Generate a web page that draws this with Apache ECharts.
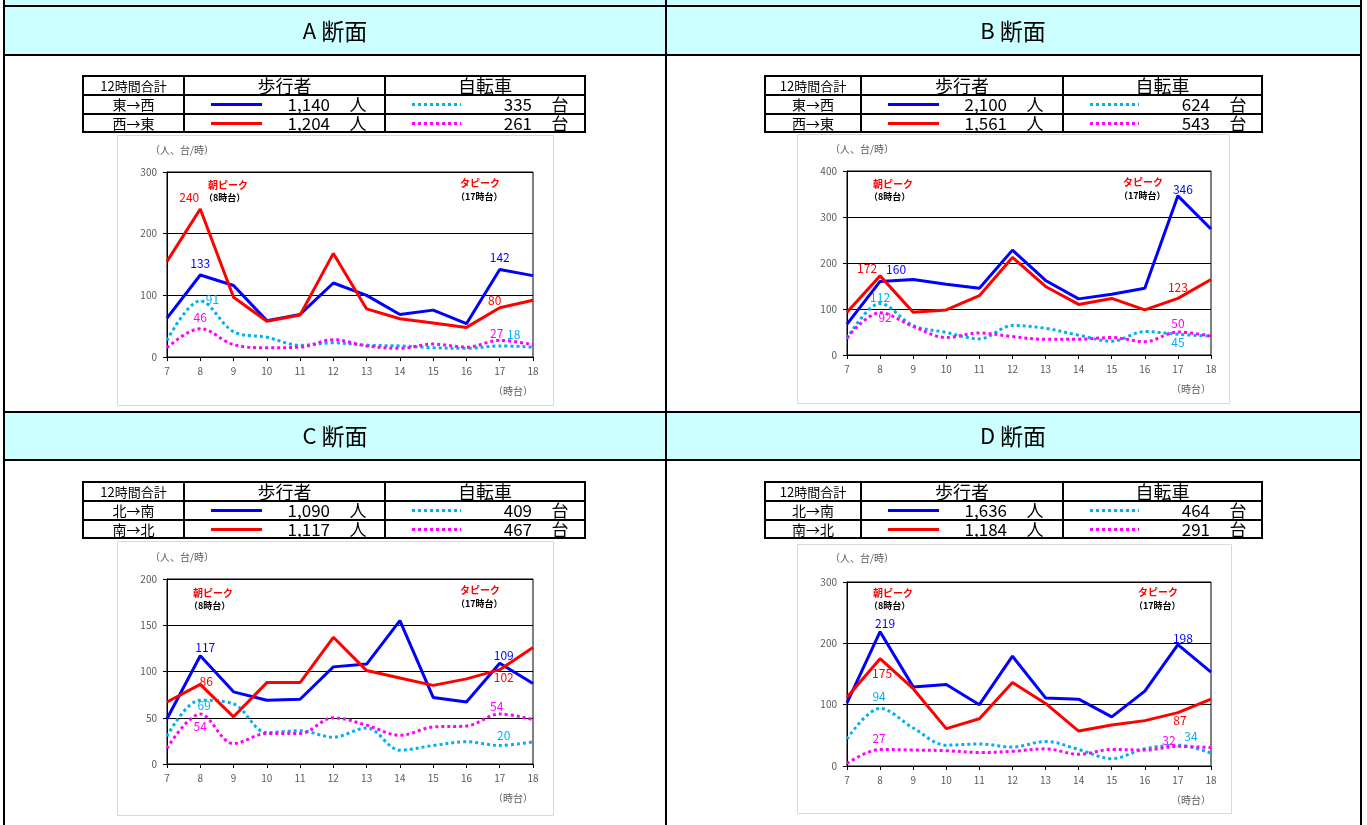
<!DOCTYPE html>
<html>
<head>
<meta charset="utf-8">
<script src="https://cdn.jsdelivr.net/npm/echarts@6/dist/echarts.min.js"></script>
<style>
html, body { margin: 0; padding: 0; background: #fff; }
#main { width: 1367px; height: 825px; }
</style>
</head>
<body>
<div id="main"></div>
<script>
const hours = ['7', '8', '9', '10', '11', '12', '13', '14', '15', '16', '17', '18'];

// A断面
const pedA_EW = [63, 133, 116, 59, 69, 120, 100, 69, 76, 54, 142, 132];
const pedA_WE = [155, 240, 97, 58, 68, 168, 78, 62, 55, 48, 80, 92];
const bikeA_EW = [27, 91, 41, 32, 19, 23, 19, 18, 15, 14, 18, 16];
const bikeA_WE = [15, 46, 20, 15, 16, 28, 18, 14, 21, 16, 27, 20];
// B断面
const pedB_EW = [67, 160, 164, 154, 145, 228, 162, 122, 132, 145, 346, 274];
const pedB_WE = [93, 172, 93, 98, 129, 212, 149, 110, 123, 98, 123, 164];
const bikeB_EW = [35, 112, 64, 49, 35, 64, 58, 43, 30, 51, 45, 41];
const bikeB_WE = [38, 92, 62, 38, 48, 40, 34, 34, 38, 29, 50, 41];
// C断面
const pedC_NS = [49, 117, 78, 69, 70, 105, 108, 155, 72, 67, 109, 87];
const pedC_SN = [67, 86, 51, 88, 88, 137, 101, 93, 85, 92, 102, 126];
const bikeC_NS = [30, 69, 65, 34, 36, 29, 39, 15, 20, 24, 20, 24];
const bikeC_SN = [17, 54, 22, 33, 33, 50, 42, 31, 40, 41, 54, 48];
// D断面
const pedD_NS = [103, 219, 129, 133, 100, 179, 111, 109, 80, 122, 198, 153];
const pedD_SN = [112, 175, 126, 61, 77, 136, 102, 57, 67, 74, 87, 109];
const bikeD_NS = [44, 94, 62, 34, 36, 31, 40, 27, 12, 28, 34, 21];
const bikeD_SN = [4, 27, 26, 25, 22, 24, 28, 19, 27, 26, 32, 30];

// 12時間合計
const sections = ['A', 'B', 'C', 'D'];
const dirEW = ['東→西', '西→東'];
const dirNS = ['北→南', '南→北'];
const pedTotals = [[1140, 1204], [2100, 1561], [1090, 1117], [1636, 1184]];
const bikeTotals = [[335, 261], [624, 543], [409, 467], [464, 291]];
const yMax = [300, 400, 200, 300];
const yStep = [100, 100, 50, 100];

const seriesData = [
    [pedA_EW, pedA_WE, bikeA_EW, bikeA_WE],
    [pedB_EW, pedB_WE, bikeB_EW, bikeB_WE],
    [pedC_NS, pedC_SN, bikeC_NS, bikeC_SN],
    [pedD_NS, pedD_SN, bikeD_NS, bikeD_SN]
];
const dirs = [dirEW, dirEW, dirNS, dirNS];

const FONT = '"Noto Sans CJK JP", "Noto Sans", sans-serif';
const colors = ['#0000FF', '#FF0000', '#00B0F0', '#FF00FF'];

// 各パネルの配置
const panels = [
    { gx: 167, gy: 172, gw: 366, gh: 185, box: [117, 135, 436, 270], tx: [83, 184, 385, 585], ty: 76, unitDy: -22, peakL: [208, 185], peakR: [460, 183] },
    { gx: 847, gy: 171, gw: 364, gh: 184, box: [797, 134, 432, 269], tx: [765, 861, 1063, 1262], ty: 76, unitDy: -22, peakL: [873, 184], peakR: [1123, 182] },
    { gx: 167, gy: 579, gw: 366, gh: 185, box: [117, 541, 436, 274], tx: [83, 184, 385, 585], ty: 482, unitDy: -22, peakL: [193, 593], peakR: [460, 590] },
    { gx: 847, gy: 582, gw: 364, gh: 184, box: [797, 544, 434, 269], tx: [765, 861, 1063, 1262], ty: 482, unitDy: -24, peakL: [873, 593], peakR: [1138, 592] }
];

// ラベル位置 (8時台, 17時台) : [position, dx, dy]
const labelCfg = [
    [[['top', 0, 0], ['top', 0, 0]], [['top', -11, 0], ['top', -5, 4]], [['right', 0, -1], ['top', 14, 0]], [['top', 0, 0], ['top', -3, 5]]],
    [[['top', 16, 0], ['top', 5, 5]], [['top', -13, 4], ['top', 0, 1]], [['top', 0, 5], ['bottom', 0, -3]], [['bottom', 5, -7], ['top', 0, 3]]],
    [[['top', 5, 3], ['top', 4, 4]], [['top', 6, 8], ['bottom', 4, -4]], [['bottom', 4, -6], ['top', 4, 1]], [['bottom', 0, 1], ['top', -3, 4]]],
    [[['top', 5, 3], ['top', 5, 5]], [['bottom', 2, 3], ['bottom', 2, -4]], [['top', -1, 0], ['top', 13, 3]], [['top', -1, 0], ['top', -9, 6]]]
];

function mkData(vals, cfg, color) {
    return vals.map(function (v, i) {
        const k = i === 1 ? 0 : (i === 10 ? 1 : -1);
        if (k < 0) return v;
        const c = cfg[k];
        return {
            value: v,
            symbol: 'circle',
            symbolSize: 1,
            label: { show: true, position: c[0], offset: [c[1], c[2]], color: color, fontSize: 12, fontFamily: FONT }
        };
    });
}

const grids = [], xAxes = [], yAxes = [], series = [], g = [];

// 見出しの背景
g.push({ type: 'rect', shape: { x: 4, y: 0, width: 1357, height: 55 }, style: { fill: '#CCFFFF' } });
g.push({ type: 'rect', shape: { x: 4, y: 412, width: 1357, height: 48 }, style: { fill: '#CCFFFF' } });

function txt(s, x, y, size, align, color, weight) {
    g.push({ type: 'text', x: x, y: y, style: { text: s, fill: color || '#000', fontSize: size, fontFamily: FONT, fontWeight: weight || 'normal', align: align || 'center', verticalAlign: 'middle' } });
}

panels.forEach(function (p, pi) {
    grids.push({ left: p.gx, top: p.gy, width: p.gw, height: p.gh, show: true, borderColor: '#000', borderWidth: 1 });
    xAxes.push({
        type: 'category', gridIndex: pi, data: hours, boundaryGap: false,
        axisLine: { lineStyle: { color: '#000' } },
        axisTick: { show: true, length: 4, lineStyle: { color: '#000' } },
        axisLabel: { interval: 0, fontSize: 10, color: '#595959', margin: 9, fontFamily: FONT }
    });
    yAxes.push({
        type: 'value', gridIndex: pi, min: 0, max: yMax[pi], interval: yStep[pi],
        axisLine: { show: true, lineStyle: { color: '#000' } },
        axisTick: { show: true, length: 4, lineStyle: { color: '#000' } },
        axisLabel: { fontSize: 10, color: '#595959', margin: 10, fontFamily: FONT },
        splitLine: { lineStyle: { color: '#000', width: 1 } }
    });
    seriesData[pi].forEach(function (vals, si) {
        const dotted = si >= 2;
        series.push({
            type: 'line', xAxisIndex: pi, yAxisIndex: pi,
            data: mkData(vals, labelCfg[pi][si], colors[si]),
            symbol: 'none', showSymbol: true, showAllSymbol: true,
            smooth: dotted ? 0.35 : false,
            z: dotted ? 2 : 3 + si,
            itemStyle: { color: colors[si] },
            lineStyle: { color: colors[si], width: 3, type: dotted ? [3, 3] : 'solid', cap: 'butt' },
            emphasis: { disabled: true }
        });
    });

    // グラフ枠
    g.push({ type: 'rect', shape: { x: p.box[0] + 0.5, y: p.box[1] + 0.5, width: p.box[2], height: p.box[3] }, style: { fill: 'none', stroke: '#D9D9D9', lineWidth: 1 } });

    // 表
    const t = p.tx, y0 = p.ty;
    g.push({ type: 'rect', shape: { x: t[0], y: y0, width: t[3] - t[0], height: 56 }, style: { fill: '#fff', stroke: '#000', lineWidth: 2 } });
    [19, 38].forEach(function (dy) {
        g.push({ type: 'line', shape: { x1: t[0], y1: y0 + dy, x2: t[3], y2: y0 + dy }, style: { stroke: '#000', lineWidth: 2 } });
    });
    [t[1], t[2]].forEach(function (x) {
        g.push({ type: 'line', shape: { x1: x, y1: y0, x2: x, y2: y0 + 56 }, style: { stroke: '#000', lineWidth: 2 } });
    });
    txt('12時間合計', (t[0] + t[1]) / 2, y0 + 10, 13);
    txt('歩行者', (t[1] + t[2]) / 2, y0 + 10, 18);
    txt('自転車', (t[2] + t[3]) / 2, y0 + 10, 18);
    [0, 1].forEach(function (r) {
        const ry = y0 + 29 + r * 19;
        txt(dirs[pi][r], (t[0] + t[1]) / 2, ry, 14);
        g.push({ type: 'line', shape: { x1: t[1] + 27, y1: ry - 0.5, x2: t[1] + 78, y2: ry - 0.5 }, style: { stroke: colors[r], lineWidth: 3 } });
        txt(pedTotals[pi][r].toLocaleString('en-US'), t[1] + 146, ry, 17, 'right');
        txt('人', t[1] + 174, ry, 17);
        g.push({ type: 'line', shape: { x1: t[2] + 27, y1: ry - 0.5, x2: t[2] + 76, y2: ry - 0.5 }, style: { stroke: colors[r + 2], lineWidth: 3, lineDash: [3, 3] } });
        txt(String(bikeTotals[pi][r]), t[2] + 147, ry, 17, 'right');
        txt('台', t[2] + 175, ry, 17);
    });

    // 軸の単位
    txt('（人、台/時）', p.gx - 17, p.gy + p.unitDy, 10, 'left', '#595959');
    txt('（時台）', p.gx + p.gw, p.gy + p.gh + 34, 10, 'right', '#595959');

    // ピーク注記
    txt('朝ピーク', p.peakL[0], p.peakL[1], 10, 'left', '#FF0000', 'bold');
    txt('（8時台）', p.peakL[0] - 4, p.peakL[1] + 13, 9, 'left', '#000', 'bold');
    txt('タピーク', p.peakR[0], p.peakR[1], 10, 'left', '#FF0000', 'bold');
    txt('（17時台）', p.peakR[0] - 4, p.peakR[1] + 14, 9, 'left', '#000', 'bold');
});

// 罫線
[6, 55, 412, 460].forEach(function (y) {
    g.push({ type: 'line', shape: { x1: 3, y1: y, x2: 1362, y2: y }, style: { stroke: '#000', lineWidth: 2 } });
});
[4, 666, 1361].forEach(function (x) {
    g.push({ type: 'line', shape: { x1: x, y1: 0, x2: x, y2: 825 }, style: { stroke: '#000', lineWidth: 2 } });
});
// 見出し (A断面 など)
[[335, 31], [1013, 31], [335, 436], [1013, 436]].forEach(function (pos, i) {
    g.push({
        type: 'text', x: pos[0], y: pos[1],
        style: {
            text: '{a|' + sections[i] + '}{b|断面}',
            align: 'center', verticalAlign: 'middle',
            rich: {
                a: { fontSize: 22, fontFamily: FONT, fill: '#000', padding: [0, 5, 0, 0] },
                b: { fontSize: 23, fontFamily: FONT, fill: '#000' }
            }
        }
    });
});

const chart = echarts.init(document.getElementById('main'));
chart.setOption({
    animation: false,
    graphic: { elements: g.map(function (e) { e.silent = true; e.z = -1; return e; }) },
    grid: grids,
    xAxis: xAxes,
    yAxis: yAxes,
    series: series
});
</script>
</body>
</html>
